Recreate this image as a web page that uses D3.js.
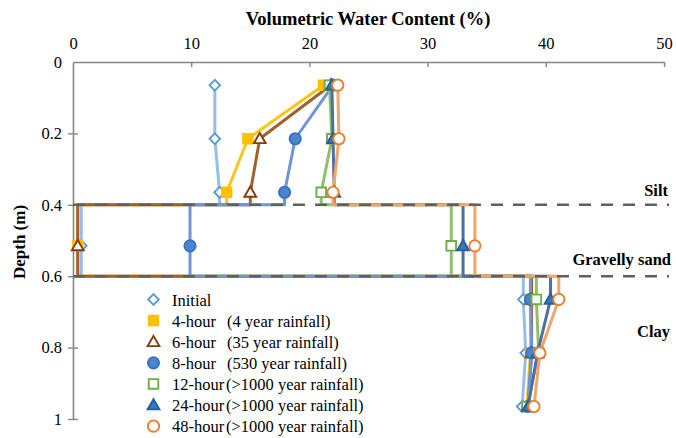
<!DOCTYPE html>
<html>
<head>
<meta charset="utf-8">
<script src="https://cdn.jsdelivr.net/npm/d3@7"></script>
<style>
  html, body { margin: 0; padding: 0; background: #fff; }
  svg { display: block; }
</style>
</head>
<body>
<svg id="chart" width="676" height="438"></svg>
<script>
// Measurement depths (m) and soil layer boundaries
const depths = [0.065, 0.215, 0.365, 0.515, 0.665, 0.815, 0.965];
const layerBounds = [0.4, 0.6];
const layerNames = ["Silt", "Gravelly sand", "Clay"];

// Volumetric water content (%) at each depth
const initial = [12.0, 12.0, 12.4, 0.7, 38.1, 38.3, 38.0];
const hour4   = [21.2, 14.8, 13.0, 0.4, 38.7, 38.7, 38.4];
const hour6   = [21.8, 15.8, 15.0, 0.4, 38.8, 38.8, 38.5];
const hour8   = [22.0, 18.8, 17.9, 9.9, 38.7, 38.8, 38.5];
const hour12  = [21.7, 21.9, 21.0, 32.0, 39.2, 39.4, 38.4];
const hour24  = [21.9, 22.0, 22.1, 33.0, 40.4, 39.3, 38.5];
const hour48  = [22.4, 22.5, 22.0, 34.0, 41.1, 39.5, 39.0];

const seriesNames = ["Initial", "4-hour", "6-hour", "8-hour", "12-hour", "24-hour", "48-hour"];
const rainfallNotes = ["", "(4 year rainfall)", "(35 year rainfall)", "(530 year rainfall)",
  "(>1000 year rainfall)", "(>1000 year rainfall)", "(>1000 year rainfall)"];

const xTicks = [0, 10, 20, 30, 40, 50];
const yTicks = [0, 0.2, 0.4, 0.6, 0.8, 1];

const FONT = "'Liberation Serif', 'Times New Roman', serif";

const styles = [
  { line: "#95bfe8", stroke: "#5b9bd5", fill: "#fff",    shape: "diamond" },
  { line: "#ffc418", stroke: "#ffc000", fill: "#ffc000", shape: "square" },
  { line: "#a0612e", stroke: "#843c0c", fill: "#fff",    shape: "triangle" },
  { line: "#6f95d8", stroke: "#3a72c0", fill: "#4a86d0", shape: "circle" },
  { line: "#8dc06a", stroke: "#70ad47", fill: "#fff",    shape: "square" },
  { line: "#4f6fa3", stroke: "#23609f", fill: "#3579bd", shape: "triangle" },
  { line: "#f5a468", stroke: "#ed7d31", fill: "#fff",    shape: "circle" }
];
const allSeries = [initial, hour4, hour6, hour8, hour12, hour24, hour48];

const svg = d3.select("#chart");
const x = d3.scaleLinear().domain([0, 50]).range([73, 664]);
const y = d3.scaleLinear().domain([0, 1]).range([62, 419]);

function label(sel, size, bold) {
  return sel.attr("font-family", FONT).attr("font-size", size)
    .attr("font-weight", bold ? "bold" : "normal").attr("fill", "#000");
}

// Axis titles
label(svg.append("text"), 18.5, true)
  .attr("x", 368).attr("y", 25)
  .attr("text-anchor", "middle")
  .text("Volumetric Water Content (%)");

label(svg.append("text"), 17, true)
  .attr("transform", "translate(25,242) rotate(-90)")
  .attr("text-anchor", "middle")
  .text("Depth (m)");

// Axes
const axisColor = "#868686";
const gx = svg.append("g").attr("transform", `translate(0,${y(0)})`)
  .call(d3.axisTop(x).tickValues(xTicks).tickFormat(d3.format("d"))
    .tickSizeInner(-5).tickSizeOuter(0).tickPadding(13));
gx.selectAll(".tick").filter(d => d === 0).select("line").remove();

const gy = svg.append("g").attr("transform", `translate(${x(0)},0)`)
  .call(d3.axisLeft(y).tickValues(yTicks)
    .tickFormat(d => d === 0 || d === 1 ? String(d) : d3.format(".1f")(d))
    .tickSizeInner(5).tickSizeOuter(0).tickPadding(6));
gy.selectAll(".tick line").attr("x1", 5);
gy.selectAll(".tick").filter(d => d === 0).select("line").remove();

[gx, gy].forEach(g => {
  g.attr("font-family", FONT).attr("font-size", 16.5);
  g.select(".domain").attr("stroke", axisColor).attr("stroke-width", 1.6);
  g.selectAll(".tick line").attr("stroke", axisColor).attr("stroke-width", 1.4);
  g.selectAll(".tick text").attr("fill", "#000");
});

// Step profile through the layers: vertical within a layer, horizontal at each boundary
function profile(vals) {
  const pts = [];
  for (let i = 0; i < 3; i++) pts.push([vals[i], depths[i]]);
  pts.push([vals[2], layerBounds[0]]);
  pts.push([vals[3], layerBounds[0]]);
  pts.push([vals[3], depths[3]]);
  pts.push([vals[3], layerBounds[1]]);
  pts.push([vals[4], layerBounds[1]]);
  for (let i = 4; i < 7; i++) pts.push([vals[i], depths[i]]);
  return pts;
}
const line = d3.line().x(d => x(d[0])).y(d => y(d[1]));

const linesG = svg.append("g");
allSeries.forEach((vals, i) => {
  linesG.append("path")
    .attr("d", line(profile(vals)))
    .attr("fill", "none")
    .attr("stroke", styles[i].line)
    .attr("stroke-width", 3)
    .attr("stroke-linejoin", "round");
});

// Layer boundaries
layerBounds.forEach(b => {
  svg.append("line")
    .attr("x1", x(0)).attr("x2", 669)
    .attr("y1", y(b)).attr("y2", y(b))
    .attr("stroke", "#5f5f5f").attr("stroke-width", 2.5)
    .attr("stroke-dasharray", "12,10");
});

// Layer names
const layerLabelPos = [
  { x: 668, y: 196 }, { x: 671, y: 265 }, { x: 670, y: 337 }
];
layerNames.forEach((n, i) => {
  label(svg.append("text"), 16.5, true)
    .attr("x", layerLabelPos[i].x).attr("y", layerLabelPos[i].y)
    .attr("text-anchor", "end")
    .text(n);
});

// Marker shapes (the diamond is a square turned 45 degrees)
function markerPath(shape) {
  const map = {
    diamond: [d3.symbolSquare, 56],
    square: [d3.symbolSquare, 92],
    triangle: [d3.symbolTriangle, 60],
    circle: [d3.symbolCircle, 100]
  };
  const [t, s] = map[shape];
  return d3.symbol().type(t).size(s)();
}
function markerTransform(shape, px, py) {
  if (shape === "diamond") return `translate(${px},${py}) rotate(45)`;
  if (shape === "triangle") return `translate(${px},${py + 1})`;
  return `translate(${px},${py})`;
}

const markersG = svg.append("g");
allSeries.forEach((vals, i) => {
  const st = styles[i];
  markersG.append("g").selectAll("path")
    .data(vals.map((v, j) => [v, depths[j]]))
    .join("path")
    .attr("d", markerPath(st.shape))
    .attr("transform", d => markerTransform(st.shape, x(d[0]), y(d[1])))
    .attr("fill", st.fill)
    .attr("stroke", st.stroke)
    .attr("stroke-width", 1.9);
});

// Legend
const legend = svg.append("g");
seriesNames.forEach((n, i) => {
  const cy = 299.5 + i * 21.1;
  const st = styles[i];
  legend.append("path")
    .attr("d", markerPath(st.shape))
    .attr("transform", markerTransform(st.shape, 153.5, cy))
    .attr("fill", st.fill).attr("stroke", st.stroke).attr("stroke-width", 1.9);
  label(legend.append("text"), 16.5, false)
    .attr("x", 172).attr("y", cy + 6)
    .text(n);
  if (rainfallNotes[i]) {
    label(legend.append("text"), 16.5, false)
      .attr("x", i >= 4 ? 226 : 227).attr("y", cy + 6)
      .text(rainfallNotes[i]);
  }
});
</script>
</body>
</html>
